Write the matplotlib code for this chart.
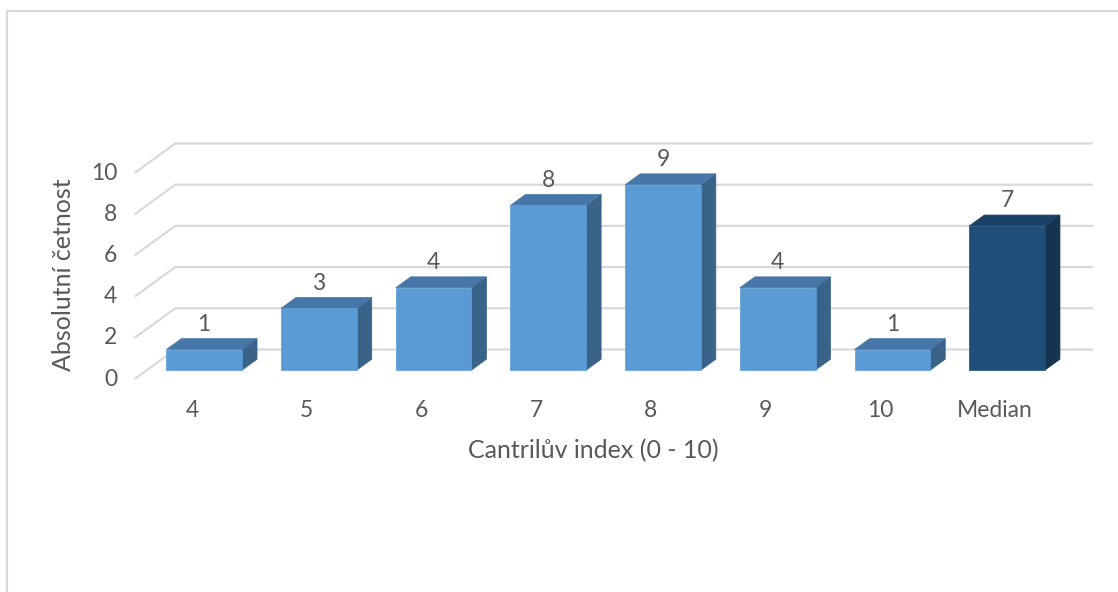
import matplotlib
matplotlib.use("Agg")
import matplotlib.pyplot as plt
from matplotlib.patches import Polygon
from matplotlib.lines import Line2D

# ---- data ----
categories = ["4", "5", "6", "7", "8", "9", "10", "Median"]
counts = [1, 3, 4, 8, 9, 4, 1, 7]
yticks = [0, 2, 4, 6, 8, 10]
xlabel = "Cantrilův index (0 - 10)"
ylabel = "Absolutní četnost"

# ---- style ----
FONT = "Lato"
TXT = "#595959"
GRID = "#d9d9d9"
face_cols = {"normal": ("#5b9bd5", "#4677a8", "#3a6389"),
             "median": ("#1f4e79", "#1b4167", "#163450")}
FS_TICK = 16.5
FS_TITLE = 18

W, H = 1118, 592
fig = plt.figure(figsize=(W / 100, H / 100), dpi=100)
ax = fig.add_axes([0, 0, 1, 1])
ax.axis("off")

# pixel-calibrated data space: category spacing and value scale
px_cat = 114.7     # px per category
px_val = 20.6      # px per value unit
x0_px = 192        # pixel x of first category (front plane)
y0_px = 379        # pixel y (from top) of value 0 (front plane)
ax.set_xlim((0 - x0_px) / px_cat, (W - x0_px) / px_cat)
ax.set_ylim((y0_px - H) / px_val, y0_px / px_val)

# depth vector (full floor depth) in data units
DX = 40.6 / px_cat
DY = 29.5 / px_val
f1, f2 = 0.30, 0.67      # bar front/back depth fractions
bw = 0.66                # bar width in category units
xmin, xmax = -0.5, len(categories) - 0.5

# gridlines (side wall diagonals + back wall horizontals)
for v in yticks:
    ax.plot([xmin, xmin + DX, xmax + DX], [v, v + DY, v + DY],
            color=GRID, lw=1.6, zorder=1, solid_capstyle="butt")
    ax.text(xmin - 0.15, v, str(v), ha="right", va="center",
            fontsize=FS_TICK, color=TXT, family=FONT)

# bars
for i, (cat, v) in enumerate(zip(categories, counts)):
    front, top, side = face_cols["median" if cat == "Median" else "normal"]
    xl, xr = i - bw / 2, i + bw / 2
    a = (f1 * DX, f1 * DY)
    b = (f2 * DX, f2 * DY)
    front_poly = [(xl + a[0], a[1]), (xr + a[0], a[1]),
                  (xr + a[0], v + a[1]), (xl + a[0], v + a[1])]
    top_poly = [(xl + a[0], v + a[1]), (xr + a[0], v + a[1]),
                (xr + b[0], v + b[1]), (xl + b[0], v + b[1])]
    side_poly = [(xr + a[0], a[1]), (xr + b[0], b[1]),
                 (xr + b[0], v + b[1]), (xr + a[0], v + a[1])]
    for poly, col in ((side_poly, side), (top_poly, top), (front_poly, front)):
        ax.add_patch(Polygon(poly, closed=True, facecolor=col,
                             edgecolor=col, lw=0.5, zorder=3))
    ax.text(i + a[0], v + b[1] + 0.7, str(v), ha="center", va="center",
            fontsize=FS_TICK, color=TXT, family=FONT, zorder=4)
    ax.text(i, -1.55, cat, ha="center", va="center",
            fontsize=FS_TICK, color=TXT, family=FONT)

ax.text((xmin + xmax) / 2, -3.5, xlabel, ha="center", va="center",
        fontsize=FS_TITLE, color=TXT, family=FONT)
ax.text((63 - x0_px) / px_cat, 5.05, ylabel, ha="center", va="center",
        rotation=90, fontsize=FS_TITLE, color=TXT, family=FONT)

# chart area border (top and left visible)
fig.add_artist(Line2D([7 / W, 7 / W], [0, 1 - 11 / H], transform=fig.transFigure,
                      color=GRID, lw=1.6))
fig.add_artist(Line2D([7 / W, 1], [1 - 11 / H, 1 - 11 / H], transform=fig.transFigure,
                      color=GRID, lw=1.6))

fig.savefig("out.png", dpi=100, facecolor="white")
